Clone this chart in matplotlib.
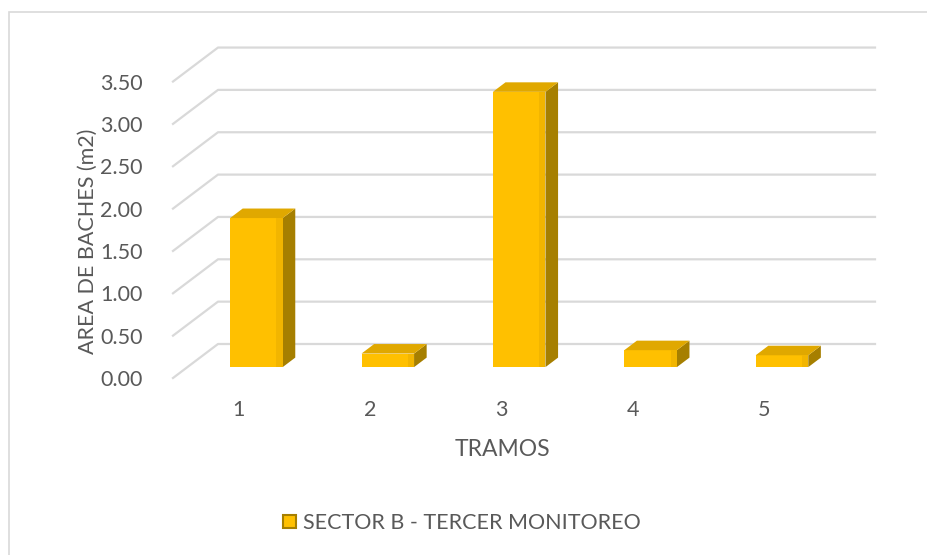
import matplotlib.pyplot as plt
from matplotlib.patches import Polygon, Rectangle, Patch
import numpy as np

plt.rcParams['font.family'] = ['Lato', 'DejaVu Sans']

tramos = ['1', '2', '3', '4', '5']
area = [1.76, 0.16, 3.25, 0.20, 0.14]
yticks = [0.0, 0.5, 1.0, 1.5, 2.0, 2.5, 3.0, 3.5]
serie = 'SECTOR B - TERCER MONITOREO'

W, H = 927, 555
fig = plt.figure(figsize=(W / 100, H / 100), dpi=100)

# pixel layout of the front plane
left_px, right_px, zero_px, top_px = 173, 875, 378, 40
px_cat = 131.4
px_val = 84.7
ax = fig.add_axes([left_px / W, (H - zero_px) / H,
                   (right_px - left_px) / W, (zero_px - top_px) / H])
xmax = 0.5 + (right_px - left_px) / px_cat
ax.set_xlim(0.5, xmax)
ax.set_ylim(0, (zero_px - top_px) / px_val)

# depth of the floor (3d look)
DX = 45 / px_cat
DY = 34 / px_val
f0, f1 = 0.32, 0.60
bw = 0.40

grid_c = '#D9D9D9'
for v in yticks:
    ax.plot([0.5, 0.5 + DX, xmax], [v, v + DY, v + DY], color=grid_c, lw=1.6,
            clip_on=False, zorder=1)

x = np.arange(1, len(tramos) + 1)
front, side, top = '#FFC000', '#A67F00', '#E0A800'
xs = x + f0 * DX - bw / 2 + 0.025
b0 = f0 * DY
bars = ax.bar(xs, area, bottom=b0, width=bw, align='edge', color=front,
              edgecolor='none', zorder=3)
ddx, ddy = (f1 - f0) * DX, (f1 - f0) * DY
for xi, v in zip(xs, area):
    xr = xi + bw
    ax.add_patch(Polygon([(xr, b0), (xr + ddx, b0 + ddy), (xr + ddx, b0 + ddy + v), (xr, b0 + v)],
                         closed=True, color=side, lw=0, zorder=3))
    ax.add_patch(Polygon([(xi, b0 + v), (xr, b0 + v), (xr + ddx, b0 + v + ddy), (xi + ddx, b0 + v + ddy)],
                         closed=True, color=top, lw=0, zorder=3))
    # soft shading near the edges of the front face
    ax.add_patch(Rectangle((xi + bw * 0.88, b0), bw * 0.12, v, color='#F2B500', lw=0, zorder=3.5))

for s in ax.spines.values():
    s.set_visible(False)
ax.set_yticks(yticks, [f'{t:.2f}' for t in yticks])
ax.set_xticks(x, tramos)
ax.tick_params(axis='y', length=0, pad=22, labelsize=15.5, labelcolor='#595959')
ax.tick_params(axis='x', length=0, pad=16, labelsize=15.5, labelcolor='#595959')

fig.text(88 / W, 1 - 241 / H, 'AREA DE BACHES (m2)', rotation=90, ha='center', va='center',
         fontsize=15.5, color='#595959')
fig.text(502 / W, 1 - 450 / H, 'TRAMOS', ha='center', va='center', fontsize=16.5, color='#595959')

fig.legend(handles=[Patch(facecolor=front, edgecolor=side, lw=1.5)], labels=[serie],
           loc='center', bbox_to_anchor=(462 / W, 1 - 523 / H), frameon=False,
           handlelength=0.6, handleheight=0.6, handletextpad=0.3,
           prop={'size': 15.5}, labelcolor='#595959')

fig.add_artist(Rectangle((9 / W, -0.1), 1.2, 1.1 - 12 / H, transform=fig.transFigure,
                         fill=False, edgecolor=grid_c, lw=1.2))

fig.savefig('out.png', dpi=100)
